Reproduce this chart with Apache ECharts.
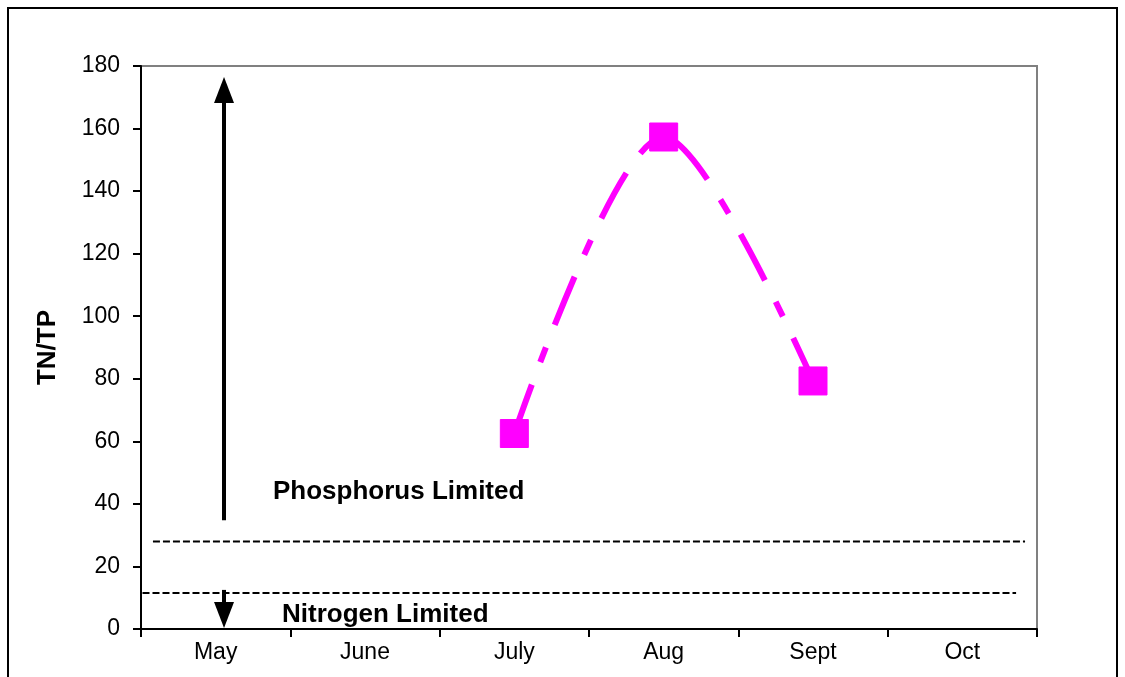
<!DOCTYPE html>
<html><head><meta charset="utf-8">
<script src="https://cdn.jsdelivr.net/npm/echarts@6/dist/echarts.min.js"></script>
<style>html,body{margin:0;padding:0;background:#fff}#c{width:1125px;height:677px}</style>
</head><body><div id="c"></div>
<script>
const months = ['May','June','July','Aug','Sept','Oct'];
const tnTp = [null, null, 62.5, 157.3, 79.3, null];
const yTicks = {min:0, max:180, interval:20};
const pLimit = 28;   // phosphorus-limited threshold line
const nLimit = 11.5; // nitrogen-limited threshold line
const upArrow = [[0.556, 34.8],[0.556, 172.3]];
const downArrow = [[0.556, 12.5],[0.556, 4.5]];
const pLine = [[0.08, pLimit],[5.92, pLimit]];
const nLine = [[0.01, nLimit],[5.86, nLimit]];
const labels = [
  {text:'Phosphorus Limited', at:[0.884, 44.0]},
  {text:'Nitrogen Limited', at:[0.944, 4.6]}
];

const chart = echarts.init(document.getElementById('c'));
const font = '"Liberation Sans", Arial, sans-serif';
chart.setOption({
  animation:false,
  backgroundColor:'#fff',
  graphic:[{type:'rect', shape:{x:8,y:8,width:1109,height:680}, style:{fill:'none', stroke:'#000', lineWidth:2}, z:100}],
  grid:{left:141, top:66, right:88, bottom:48, show:true, borderColor:'#808080', borderWidth:2, backgroundColor:'transparent'},
  xAxis:[{
    type:'category', data:months, boundaryGap:true,
    axisLine:{lineStyle:{color:'#000', width:2}},
    axisTick:{show:true, alignWithLabel:false, length:8, lineStyle:{color:'#000', width:2}},
    axisLabel:{color:'#000', fontFamily:font, fontSize:23, margin:12},
    splitLine:{show:false}
  },{
    type:'value', min:0, max:6, show:false, position:'bottom'
  }],
  yAxis:{
    type:'value', min:yTicks.min, max:yTicks.max, interval:yTicks.interval,
    name:'TN/TP', nameLocation:'middle', nameGap:80, nameRotate:90,
    nameTextStyle:{color:'#000', fontFamily:font, fontSize:26, fontWeight:'bold'},
    axisLine:{show:true, lineStyle:{color:'#000', width:2}},
    axisTick:{show:true, length:8, lineStyle:{color:'#000', width:2}},
    axisLabel:{color:'#000', fontFamily:font, fontSize:23, margin:21},
    splitLine:{show:false}
  },
  series:[
    {
      type:'line', xAxisIndex:0, data:tnTp, smooth:0.3, connectNulls:false,
      symbol:'rect', symbolSize:28,
      itemStyle:{color:'#FF00FF', borderColor:'#FF00FF'},
      lineStyle:{color:'#FF00FF', width:6, type:[52,24,16,24]},
      z:5
    },
    {
      type:'line', xAxisIndex:1, data:pLine, symbol:'none',
      lineStyle:{color:'#000', width:2, type:[7,3]}, silent:true
    },
    {
      type:'line', xAxisIndex:1, data:nLine, symbol:'none',
      lineStyle:{color:'#000', width:2, type:[7,3]}, silent:true
    },
    {
      type:'line', xAxisIndex:1, data:[], symbol:'none',
      markLine:{
        silent:true, symbol:['none','triangle'], symbolSize:[20,26],
        lineStyle:{color:'#000', width:4, type:'solid'}, label:{show:false},
        itemStyle:{color:'#000'},
        data:[[{coord:upArrow[0]},{coord:upArrow[1]}],[{coord:downArrow[0]},{coord:downArrow[1]}]]
      }
    },
    {
      type:'scatter', xAxisIndex:1, symbolSize:0,
      itemStyle:{opacity:1},
      data:labels.map(l=>({value:l.at, name:l.text})),
      label:{show:true, position:'right', distance:0, formatter:p=>p.name,
        color:'#000', fontFamily:font, fontSize:26, fontWeight:'bold'},
      silent:true
    }
  ]
});
</script></body></html>
